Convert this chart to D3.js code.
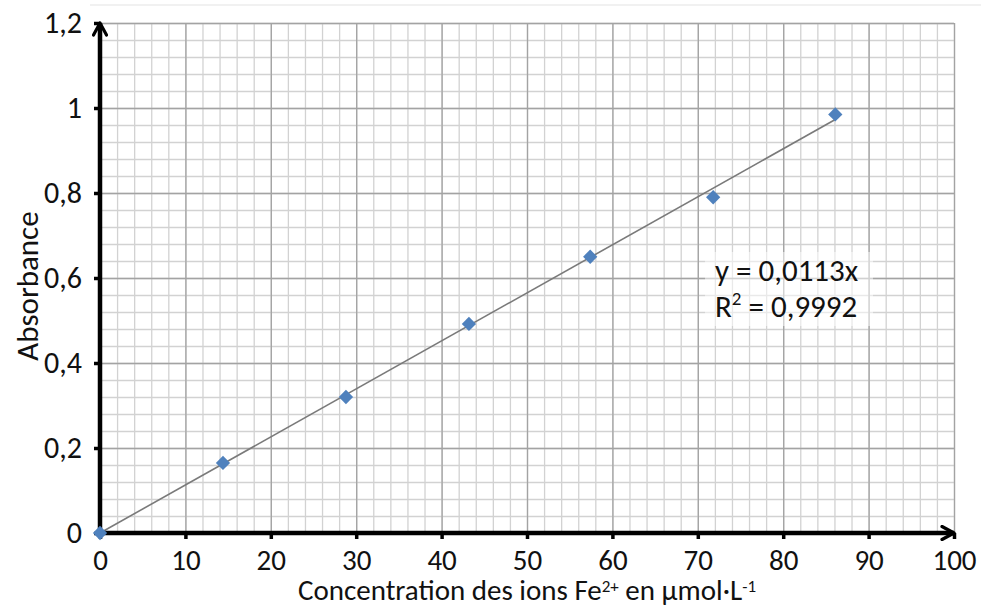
<!DOCTYPE html>
<html>
<head>
<meta charset="utf-8">
<script src="https://cdn.jsdelivr.net/npm/d3@7"></script>
<style>
  body { margin: 0; background: #fff; }
  text { font-family: Carlito, Lato, "Open Sans", sans-serif; fill: #111; }
  .grid line { stroke: #d2d2d2; stroke-width: 1.3; }
  .grid.major line { stroke: #a3a3a3; stroke-width: 1.3; }
  .grid path { display: none; }
</style>
</head>
<body>
<div id="container"></div>
<script>
// data
var concentration = [0, 14.4, 28.8, 43.2, 57.4, 71.8, 86.1];
var absorbance   = [0, 0.165, 0.32, 0.492, 0.65, 0.79, 0.985];
var slope = 0.0113;
var xTicks = [0, 10, 20, 30, 40, 50, 60, 70, 80, 90, 100];
var yTicks = [0, 0.2, 0.4, 0.6, 0.8, 1, 1.2];
var yTickLabels = ["0", "0,2", "0,4", "0,6", "0,8", "1", "1,2"];

var W = 981, H = 607;
var padL = 100, padR = 954, padT = 23, padB = 533;

var svg = d3.select("#container").append("svg")
  .attr("width", W)
  .attr("height", H);

var x = d3.scaleLinear().domain([0, 100]).range([padL, padR]);
var y = d3.scaleLinear().domain([0, 1.2]).range([padB, padT]);

// faint chart border at the top
svg.append("line")
  .attr("x1", 90).attr("x2", W).attr("y1", 5).attr("y2", 5)
  .attr("stroke", "#ececec").attr("stroke-width", 1.5);

// minor grid every 2 units / 0.04
var minorX = d3.range(0, 101, 2);
var minorY = d3.range(0, 31).map(function(i) { return i * 0.04; });

svg.append("g").attr("class", "grid")
  .attr("transform", "translate(0," + padB + ")")
  .call(d3.axisBottom(x).tickValues(minorX).tickSize(-(padB - padT)).tickFormat(""));
svg.append("g").attr("class", "grid")
  .attr("transform", "translate(" + padL + ",0)")
  .call(d3.axisLeft(y).tickValues(minorY).tickSize(-(padR - padL)).tickFormat(""));

svg.append("g").attr("class", "grid major")
  .attr("transform", "translate(0," + padB + ")")
  .call(d3.axisBottom(x).tickValues(xTicks).tickSize(-(padB - padT)).tickFormat(""));
svg.append("g").attr("class", "grid major")
  .attr("transform", "translate(" + padL + ",0)")
  .call(d3.axisLeft(y).tickValues(yTicks).tickSize(-(padR - padL)).tickFormat(""));

// trendline y = 0,0113x
var xmax = d3.max(concentration);
svg.append("line")
  .attr("x1", x(0)).attr("y1", y(0))
  .attr("x2", x(xmax)).attr("y2", y(slope * xmax))
  .attr("stroke", "#7a7a7a").attr("stroke-width", 1.6);

// equation label
var eq = svg.append("g");
eq.append("rect")
  .attr("x", 705).attr("y", 252)
  .attr("width", 168).attr("height", 74)
  .attr("fill", "#fff").attr("opacity", 0.5);
eq.append("text")
  .attr("x", 715).attr("y", 281)
  .attr("font-size", 31)
  .text("y = 0,0113x");
var r2 = eq.append("text")
  .attr("x", 715).attr("y", 317)
  .attr("font-size", 31);
r2.append("tspan").text("R");
r2.append("tspan").attr("dy", -12).attr("font-size", 19).text("2");
r2.append("tspan").attr("dy", 12).text(" = 0,9992");

// arrow marker
svg.append("defs").append("marker")
  .attr("id", "arrow")
  .attr("viewBox", "0 0 16 16")
  .attr("refX", 14).attr("refY", 8)
  .attr("markerWidth", 16).attr("markerHeight", 16)
  .attr("markerUnits", "userSpaceOnUse")
  .attr("orient", "auto")
  .append("path")
  .attr("d", "M2,1.5 L14,8 L2,14.5")
  .attr("fill", "none").attr("stroke", "#000").attr("stroke-width", 3.2)
  .attr("stroke-linecap", "round").attr("stroke-linejoin", "round");

// axes with ticks + labels
var xAxis = svg.append("g")
  .attr("transform", "translate(0," + padB + ")")
  .call(d3.axisBottom(x).tickValues(xTicks).tickSize(6).tickPadding(10).tickFormat(d3.format("d")));
xAxis.select(".domain").remove();
xAxis.selectAll(".tick line").attr("stroke", "#000").attr("stroke-width", 3.5);
xAxis.selectAll(".tick text").attr("font-size", 29).style("fill", "#111");

var yAxis = svg.append("g")
  .attr("transform", "translate(" + padL + ",0)")
  .call(d3.axisLeft(y).tickValues(yTicks).tickSize(6).tickPadding(12)
    .tickFormat(function(d, i) { return yTickLabels[i]; }));
yAxis.select(".domain").remove();
yAxis.selectAll(".tick line").attr("stroke", "#000").attr("stroke-width", 3.5);
yAxis.selectAll(".tick text").attr("font-size", 30).style("fill", "#111");

svg.append("line")
  .attr("x1", x(0) - 2).attr("y1", y(0))
  .attr("x2", x(100)).attr("y2", y(0))
  .attr("stroke", "#000").attr("stroke-width", 4.5)
  .attr("marker-end", "url(#arrow)");
svg.append("line")
  .attr("x1", x(0)).attr("y1", y(0) + 2)
  .attr("x2", x(0)).attr("y2", y(1.2))
  .attr("stroke", "#000").attr("stroke-width", 4.5)
  .attr("marker-end", "url(#arrow)");

// data points
var pts = concentration.map(function(c, i) { return [c, absorbance[i]]; });
svg.selectAll("path.pt")
  .data(pts)
  .enter().append("path")
  .attr("class", "pt")
  .attr("d", d3.symbol().type(d3.symbolDiamond2).size(130))
  .attr("transform", function(d) { return "translate(" + x(d[0]) + "," + y(d[1]) + ")"; })
  .attr("fill", "#4f81bd");

// axis titles
var xt = svg.append("text")
  .attr("x", (padL + padR) / 2).attr("y", 600)
  .attr("text-anchor", "middle")
  .attr("font-size", 29);
xt.append("tspan").text("Concentration des ions Fe");
xt.append("tspan").attr("dy", -8).attr("font-size", 17).text("2+");
xt.append("tspan").attr("dy", 8).text(" en µmol·L");
xt.append("tspan").attr("dy", -8).attr("font-size", 17).text("-1");

svg.append("text")
  .attr("transform", "translate(38,286) rotate(-90)")
  .attr("text-anchor", "middle")
  .attr("font-size", 31)
  .text("Absorbance");
</script>
</body>
</html>
